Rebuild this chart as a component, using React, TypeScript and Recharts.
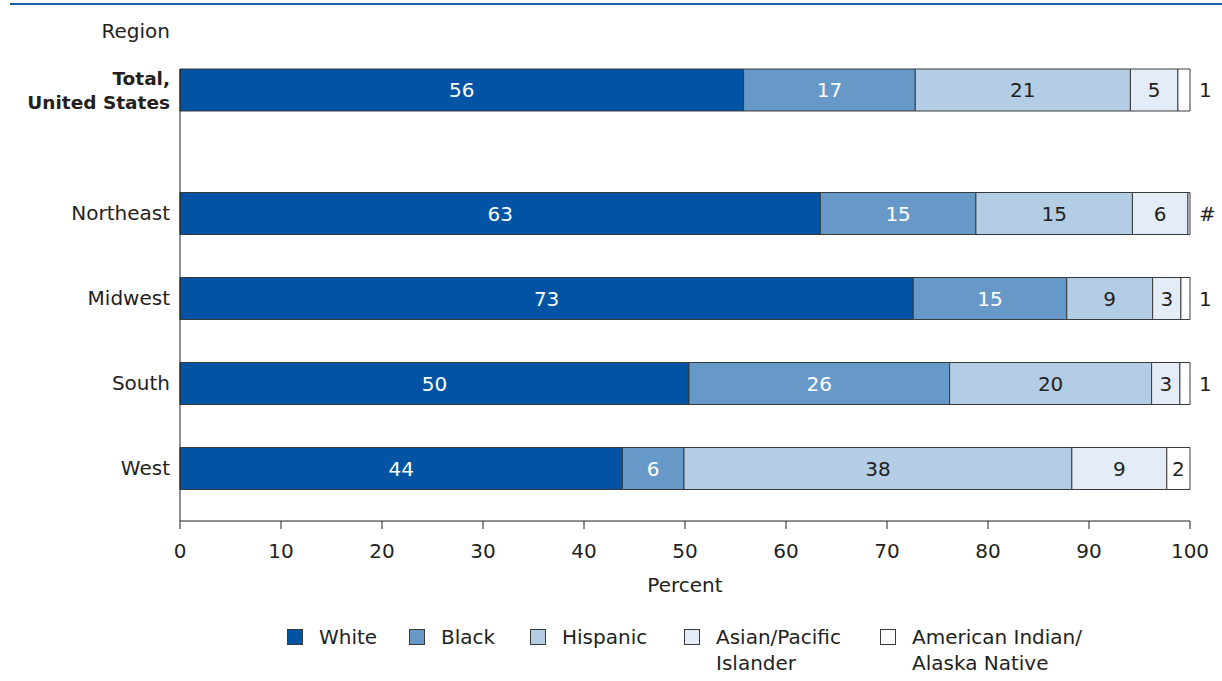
import { BarChart, Bar, XAxis, YAxis, LabelList } from 'recharts';

const categories = ['Total, United States', 'Northeast', 'Midwest', 'South', 'West'];

const white = [55.8, 63.4, 72.6, 50.4, 43.8];
const black = [17.0, 15.4, 15.2, 25.8, 6.1];
const hispanic = [21.3, 15.5, 8.5, 20.0, 38.4];
const asian = [4.7, 5.5, 2.8, 2.8, 9.4];
const aian = [1.2, 0.2, 0.9, 1.0, 2.3];

const whiteLabels = ['56', '63', '73', '50', '44'];
const blackLabels = ['17', '15', '15', '26', '6'];
const hispanicLabels = ['21', '15', '9', '20', '38'];
const asianLabels = ['5', '6', '3', '3', '9'];
const aianLabels = ['1', '#', '1', '1', '2'];

const xTicks = [0, 10, 20, 30, 40, 50, 60, 70, 80, 90, 100];

const FONT = '"DejaVu Sans", sans-serif';
const INK = '#231f20';
const EDGE = '#3a3a3a';

const series = [
  { key: 'white', name: 'White', fill: '#0054a3', text: '#ffffff', w: 122 },
  { key: 'black', name: 'Black', fill: '#6699c8', text: '#ffffff', w: 121 },
  { key: 'hispanic', name: 'Hispanic', fill: '#b3cde4', text: INK, w: 154 },
  { key: 'asian', name: 'Asian/Pacific\nIslander', fill: '#e4edf7', text: INK, w: 196 },
  { key: 'aian', name: 'American Indian/\nAlaska Native', fill: '#ffffff', text: INK, w: 220 },
];

const rows = categories.map((name, i) => ({
  name,
  white: white[i],
  black: black[i],
  hispanic: hispanic[i],
  asian: asian[i],
  aian: aian[i],
  whiteLabel: whiteLabels[i],
  blackLabel: blackLabels[i],
  hispanicLabel: hispanicLabels[i],
  asianLabel: asianLabels[i],
  aianLabel: aianLabels[i],
}));

const totalData = rows.slice(0, 1);
const regionData = rows.slice(1);

// segment value, centred inside; pushed past the bar end when the segment is too thin
const segmentLabel = (color: string) => (props: any) => {
  const { x, y, width, height, value } = props;
  const outside = width < 16;
  return (
    <text
      x={outside ? x + width + 9 : x + width / 2}
      y={y + height / 2}
      dy="0.36em"
      textAnchor={outside ? 'start' : 'middle'}
      fill={outside ? INK : color}
      fontSize={20}
      fontFamily={FONT}
    >
      {value}
    </text>
  );
};

const RegionTick = ({ x, y, payload }: any) => (
  <text x={x} y={y} dy="0.36em" textAnchor="end" fill={INK} fontSize={20} fontFamily={FONT}>
    {payload.value}
  </text>
);

const TotalTick = ({ x, y, payload }: any) => {
  const [first, second] = payload.value.split(', ');
  return (
    <text textAnchor="end" fill={INK} fontSize={18.5} fontWeight="bold" fontFamily={FONT}>
      <tspan x={x} y={y - 12} dy="0.36em">{first},</tspan>
      <tspan x={x} y={y + 12} dy="0.36em">{second}</tspan>
    </text>
  );
};

function Bars(size?: number) {
  return series.map((s) => (
    <Bar
      key={s.key}
      dataKey={s.key}
      stackId="a"
      fill={s.fill}
      stroke={EDGE}
      strokeWidth={1}
      barSize={size}
      isAnimationActive={false}
    >
      <LabelList dataKey={`${s.key}Label`} content={segmentLabel(s.text)} />
    </Bar>
  ));
}

function Legend() {
  return (
    <div
      style={{
        position: 'absolute',
        left: 287,
        top: 624,
        display: 'flex',
        fontFamily: FONT,
        fontSize: 20,
        color: INK,
        lineHeight: '26px',
      }}
    >
      {series.map((s) => (
        <div key={s.key} style={{ display: 'flex', alignItems: 'flex-start', width: s.w }}>
          <div
            style={{
              width: 14,
              height: 14,
              marginTop: 5,
              marginRight: 16,
              background: s.fill,
              border: `1px solid ${EDGE}`,
            }}
          />
          <div style={{ whiteSpace: 'pre' }}>{s.name}</div>
        </div>
      ))}
    </div>
  );
}

export default function App() {
  return (
    <div style={{ position: 'absolute', left: 0, top: 0, width: 1222, height: 681, background: '#fff' }}>
      <div style={{ position: 'absolute', left: 10, top: 3, width: 1212, height: 2, background: '#1a5aa6' }} />
      <div
        style={{
          position: 'absolute',
          left: 0,
          top: 19,
          width: 170,
          textAlign: 'right',
          fontFamily: FONT,
          fontSize: 20,
          lineHeight: '24px',
          color: INK,
        }}
      >
        Region
      </div>

      {/* national total on its own, set apart from the regions */}
      <div style={{ position: 'absolute', left: 0, top: 50 }}>
        <BarChart
          width={1222}
          height={100}
          data={totalData}
          layout="vertical"
          barCategoryGap={0}
          margin={{ top: 19, right: 32, bottom: 39, left: 0 }}
        >
          <XAxis type="number" domain={[0, 100]} hide />
          <YAxis
            type="category"
            dataKey="name"
            width={180}
            tickLine={false}
            tickMargin={4}
            axisLine={{ stroke: INK }}
            tick={<TotalTick />}
          />
          {Bars()}
        </BarChart>
      </div>

      <div style={{ position: 'absolute', left: 0, top: 111 }}>
        <BarChart
          width={1222}
          height={570}
          data={regionData}
          layout="vertical"
          margin={{ top: 0, right: 32, bottom: 89, left: 0 }}
        >
          <XAxis
            type="number"
            domain={[0, 100]}
            ticks={xTicks}
            height={71}
            tickSize={8}
            tickMargin={15}
            axisLine={{ stroke: INK }}
            tickLine={{ stroke: INK }}
            tick={{ fill: INK, fontSize: 20, fontFamily: FONT }}
            label={{
              value: 'Percent',
              position: 'insideBottom',
              offset: 0,
              fill: INK,
              fontSize: 20,
              fontFamily: FONT,
            }}
          />
          <YAxis
            type="category"
            dataKey="name"
            width={180}
            padding={{ top: 59.5, bottom: 10.5 }}
            tickLine={false}
            tickMargin={4}
            axisLine={{ stroke: INK }}
            tick={<RegionTick />}
          />
          {Bars(42)}
        </BarChart>
      </div>

      <Legend />
    </div>
  );
}
